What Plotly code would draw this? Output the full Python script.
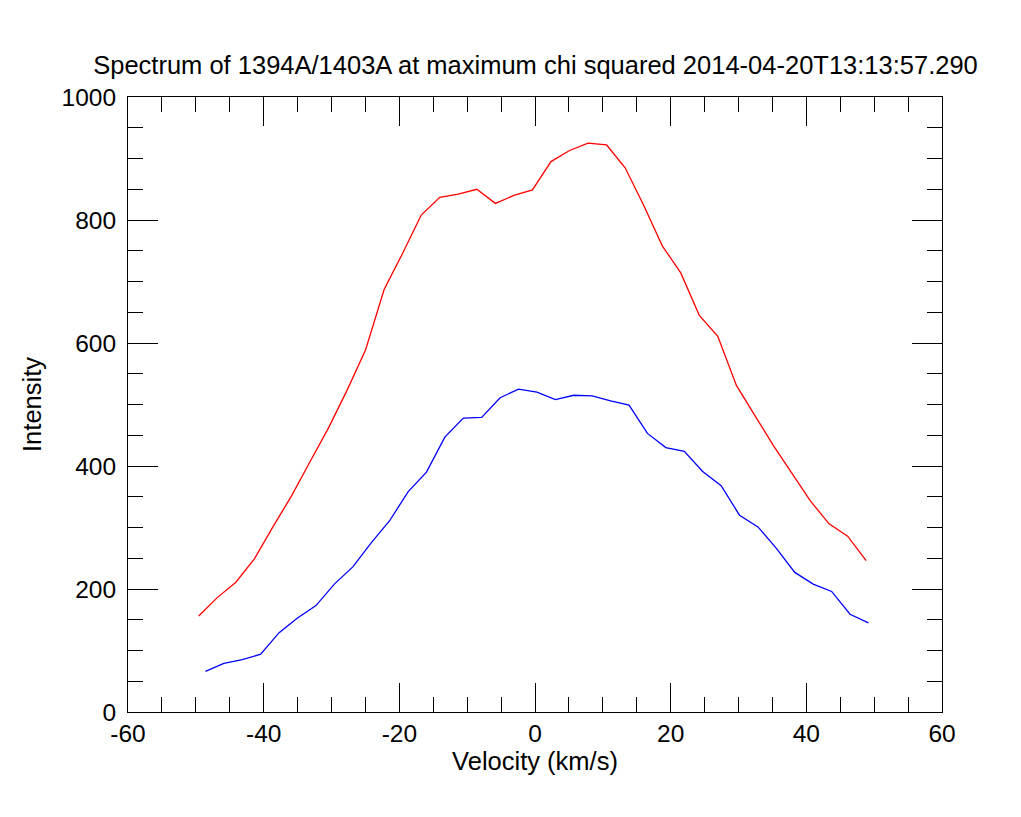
import plotly.graph_objects as go

# Red: 1394A line
vel_1394 = [-49.57, -46.84, -44.10, -41.37, -38.64, -35.91, -33.17, -30.44, -27.71, -24.97,
            -22.24, -19.51, -16.77, -14.04, -11.31, -8.58, -5.84, -3.11, -0.38, 2.36,
            5.09, 7.82, 10.56, 13.29, 16.02, 18.76, 21.49, 24.22, 26.95, 29.69,
            32.42, 35.15, 37.89, 40.62, 43.35, 46.09, 48.82]
int_1394 = [156, 186, 211, 249, 301, 351, 407, 462, 523, 589,
            687, 746, 808, 837, 842, 850, 827, 840, 849, 895,
            913, 925, 922, 885, 824, 758, 714, 645, 611, 531,
            482, 433, 388, 343, 306, 286, 246]

# Blue: 1403A line
vel_1403 = [-48.58, -45.87, -43.15, -40.44, -37.72, -35.01, -32.29, -29.58, -26.86, -24.15,
            -21.43, -18.72, -16.00, -13.29, -10.57, -7.86, -5.14, -2.43, 0.29, 3.00,
            5.72, 8.43, 11.15, 13.86, 16.58, 19.29, 22.01, 24.72, 27.44, 30.15,
            32.87, 35.58, 38.30, 41.01, 43.73, 46.44, 49.16]
int_1403 = [66, 79, 85, 94, 129, 153, 173, 208, 236, 275,
            311, 358, 390, 447, 478, 479, 511, 525, 520, 508,
            515, 514, 506, 499, 453, 430, 424, 391, 368, 320,
            301, 266, 227, 208, 196, 159, 145]

x_tickvals = [-60, -40, -20, 0, 20, 40, 60]
x_ticktext = ["-60", "-40", "-20", "0", "20", "40", "60"]
y_tickvals = [0, 200, 400, 600, 800, 1000]
y_ticktext = ["0", "200", "400", "600", "800", "1000"]

title_text = "Spectrum of 1394A/1403A at maximum chi squared 2014-04-20T13:13:57.290"
x_label = "Velocity (km/s)"
y_label = "Intensity"

font_family = "Liberation Sans, Arial, sans-serif"

fig = go.Figure()
fig.add_trace(go.Scatter(x=vel_1394, y=int_1394, mode="lines",
                         line=dict(color="#ff0000", width=1.3), showlegend=False))
fig.add_trace(go.Scatter(x=vel_1403, y=int_1403, mode="lines",
                         line=dict(color="#0000ff", width=1.3), showlegend=False))

axis_common = dict(
    showline=True, linecolor="black", linewidth=1, mirror="allticks",
    ticks="inside", tickcolor="black", tickwidth=1,
    showgrid=False, zeroline=False,
    tickfont=dict(family=font_family, size=24.5, color="black"),
)

fig.update_xaxes(range=[-60, 60], tickmode="array", tickvals=x_tickvals, ticktext=x_ticktext, ticklen=29,
                 minor=dict(ticks="inside", tickmode="linear", tick0=-60, dtick=5, ticklen=15,
                            tickcolor="black", tickwidth=1, showgrid=False),
                 ticklabelstandoff=0,
                 title=dict(text=x_label, font=dict(family=font_family, size=25.5, color="black"), standoff=0),
                 **axis_common)
fig.update_yaxes(range=[0, 1000], tickmode="array", tickvals=y_tickvals, ticktext=y_ticktext, ticklen=30,
                 minor=dict(ticks="inside", tickmode="linear", tick0=0, dtick=50, ticklen=15,
                            tickcolor="black", tickwidth=1, showgrid=False),
                 ticklabelstandoff=6,
                 title=dict(text=y_label, font=dict(family=font_family, size=25.5, color="black"), standoff=12),
                 **axis_common)

fig.update_layout(
    width=1021, height=817,
    margin=dict(l=128, r=79, t=97, b=105),
    paper_bgcolor="white", plot_bgcolor="white",
    title=dict(text=title_text, x=0.5245, xanchor="center", y=0.92, yanchor="middle",
               font=dict(family=font_family, size=25.5, color="black")),
)

fig.write_html("out.html")
